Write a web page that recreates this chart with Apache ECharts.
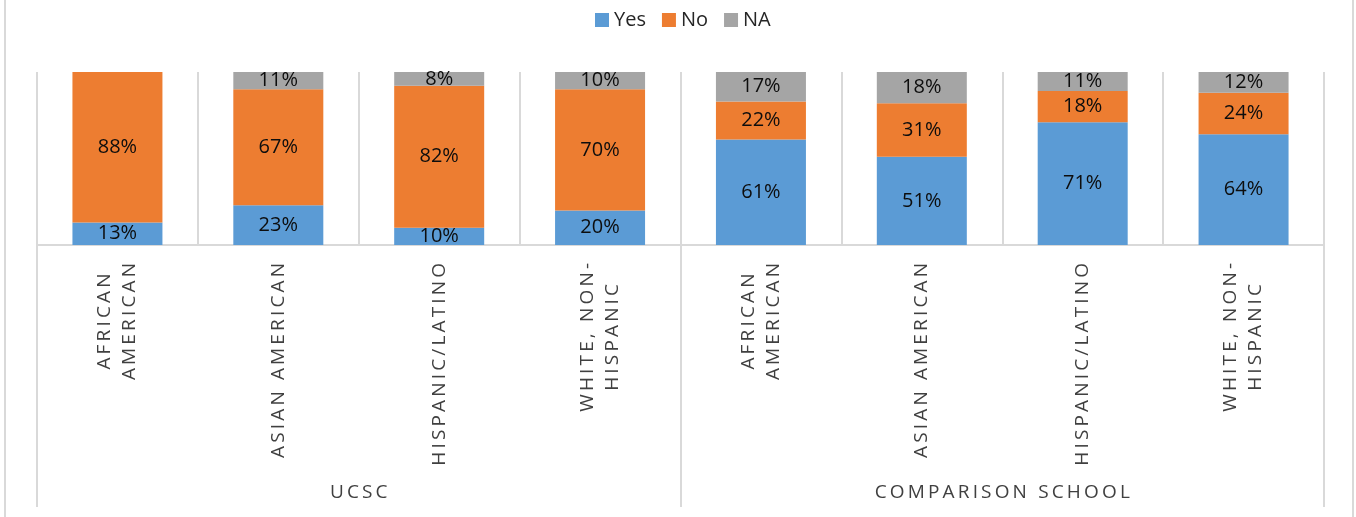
<!DOCTYPE html>
<html>
<head>
<meta charset="utf-8">
<script src="https://cdn.jsdelivr.net/npm/echarts@6/dist/echarts.min.js"></script>
<style>
html,body{margin:0;padding:0;background:#fff;}
#chart{width:1356px;height:517px;}
</style>
</head>
<body>
<div id="chart"></div>
<script>
// ---- data ----
const categories = [
  'AFRICAN\nAMERICAN', 'ASIAN AMERICAN', 'HISPANIC/LATINO', 'WHITE, NON-\nHISPANIC',
  'AFRICAN\nAMERICAN', 'ASIAN AMERICAN', 'HISPANIC/LATINO', 'WHITE, NON-\nHISPANIC'
];
const groups = ['UCSC', 'COMPARISON SCHOOL'];
const seriesNames = ['Yes', 'No', 'NA'];
const yesValues = [13, 23, 10, 20, 61, 51, 71, 64];
const noValues  = [88, 67, 82, 70, 22, 31, 18, 24];
const naValues  = [null, 11, 8, 10, 17, 18, 11, 12];

const colors = ['#5B9BD5', '#ED7D31', '#A5A5A5'];
const FONT = '"Open Sans", "Noto Sans", sans-serif';
const THIN = '\u2009';
function spaced(s) { return s.split('').join(THIN); }

const chart = echarts.init(document.getElementById('chart'), null, {renderer: 'canvas'});

function barSeries(name, data, color) {
  return {
    name: name,
    type: 'bar',
    stack: 'total',
    data: data,
    barWidth: 90,
    clip: true,
    itemStyle: {color: color},
    label: {
      show: true,
      position: 'inside',
      formatter: '{c}%',
      color: '#0d0d0d',
      fontFamily: FONT,
      fontSize: 20
    },
    emphasis: {disabled: true}
  };
}

const option = {
  animation: false,
  color: colors,
  legend: {
    data: seriesNames,
    top: 10,
    left: 595,
    padding: 0,
    icon: 'rect',
    itemWidth: 14,
    itemHeight: 14,
    itemGap: 16,
    textStyle: {fontFamily: FONT, fontSize: 20, color: '#262626'}
  },
  grid: {left: 37, right: 32, top: 72, bottom: 272},
  xAxis: [
    {
      type: 'category',
      data: categories,
      position: 'bottom',
      axisLine: {show: true, lineStyle: {color: '#d9d9d9', width: 2}},
      axisTick: {show: false},
      splitLine: {show: true, lineStyle: {color: '#d9d9d9', width: 2}},
      axisLabel: {
        interval: 0,
        rotate: 90,
        margin: 18,
        align: 'right',
        verticalAlign: 'middle',
        formatter: function (v) {
          return v.split('\n').map(l => '{c|' + spaced(l) + '}').join('\n');
        },
        rich: {
          c: {align: 'center', fontFamily: FONT, fontSize: 19, lineHeight: 25, color: '#404040'}
        }
      }
    },
    {
      type: 'category',
      data: groups,
      position: 'bottom',
      offset: 0,
      axisLine: {show: false},
      axisTick: {show: true, length: 262, lineStyle: {color: '#d9d9d9', width: 2}},
      splitLine: {show: false},
      axisLabel: {
        interval: 0,
        margin: 238,
        formatter: function (v) { return spaced(v); },
        fontFamily: FONT,
        fontSize: 19,
        color: '#404040'
      }
    }
  ],
  yAxis: {
    type: 'value',
    min: 0,
    max: 100,
    show: false,
    splitLine: {show: false}
  },
  graphic: [
    {type: 'line', shape: {x1: 5, y1: 0, x2: 5, y2: 517}, style: {stroke: '#d9d9d9', lineWidth: 2}},
    {type: 'line', shape: {x1: 1353, y1: 0, x2: 1353, y2: 517}, style: {stroke: '#d9d9d9', lineWidth: 2}}
  ],
  series: [
    barSeries(seriesNames[0], yesValues, colors[0]),
    barSeries(seriesNames[1], noValues, colors[1]),
    barSeries(seriesNames[2], naValues, colors[2])
  ]
};
chart.setOption(option);
</script>
</body>
</html>
